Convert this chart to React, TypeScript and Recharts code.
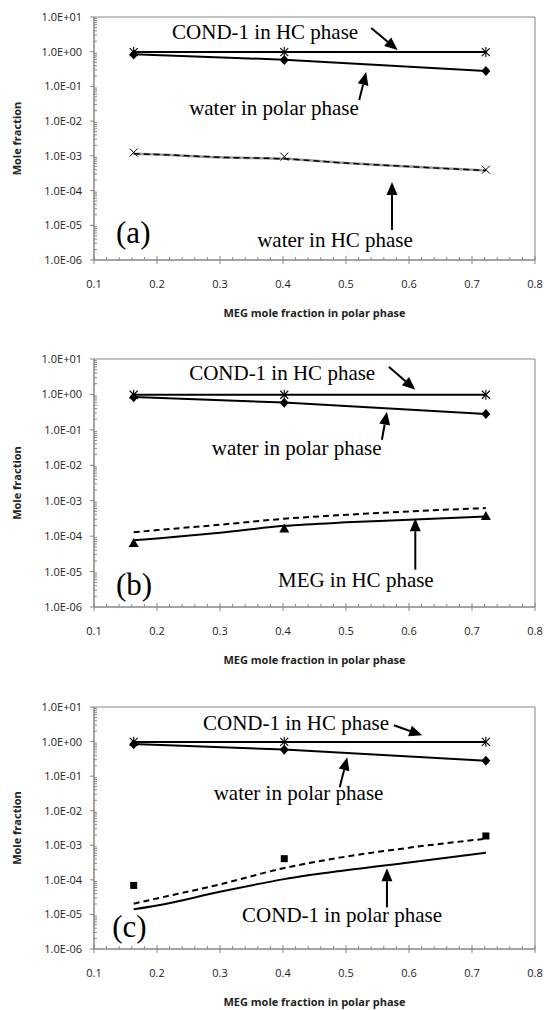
import React from 'react';
import {
  ComposedChart,
  Line,
  Scatter,
  XAxis,
  YAxis,
  ReferenceArea,
  ReferenceLine,
  ReferenceDot,
  Label,
} from 'recharts';

// MEG mole fraction in polar phase of the measured points
const EXP_X = [0.163, 0.402, 0.722];
// x positions
const MODEL_X = [0.163, 0.2, 0.3, 0.402, 0.5, 0.6, 0.722];

// shared by all three panels
const COND1_HC_EXP = [0.98, 0.98, 0.98];
const COND1_HC_MODEL = [0.98, 0.98, 0.98];
const WATER_POLAR_EXP = [0.83, 0.58, 0.28];
const WATER_POLAR_MODEL = [0.85, 0.59, 0.28];

// (a) water in HC phase
const WATER_HC_EXP = [1.25e-3, 9.5e-4, 4.0e-4];
const WATER_HC_SOLID = [1.15e-3, 1.1e-3, 9.1e-4, 8.2e-4, 6.2e-4, 4.9e-4, 3.8e-4];
const WATER_HC_DASHED = [1.15e-3, 1.1e-3, 9.1e-4, 8.2e-4, 6.2e-4, 4.9e-4, 3.8e-4];

// (b) MEG in HC phase
const MEG_HC_EXP = [6.4e-5, 1.65e-4, 3.7e-4];
const MEG_HC_SOLID = [7.6e-5, 8.6e-5, 1.25e-4, 1.95e-4, 2.45e-4, 2.9e-4, 3.6e-4];
const MEG_HC_DASHED = [1.28e-4, 1.48e-4, 2.1e-4, 3.1e-4, 4.0e-4, 5.0e-4, 6.2e-4];

// (c) COND-1 in polar phase
const COND1_POLAR_EXP = [6.9e-5, 4.1e-4, 1.86e-3];
const COND1_POLAR_SOLID = [1.4e-5, 1.8e-5, 4.5e-5, 1.05e-4, 1.9e-4, 3.2e-4, 6.1e-4];
const COND1_POLAR_DASHED = [2.05e-5, 2.9e-5, 7.4e-5, 2.2e-4, 4.7e-4, 8.5e-4, 1.55e-3];

const X_TITLE = 'MEG mole fraction in polar phase';
const Y_TITLE = 'Mole fraction';

// tick lists: majors every 0.1 / decade, minors in between
const X_TICKS: number[] = [];
for (let i = 0; i <= 35; i++) X_TICKS.push(Math.round((0.1 + i * 0.02) * 1000) / 1000);
const Y_TICKS: number[] = [];
for (let e = -6; e <= 1; e++) {
  Y_TICKS.push(Math.pow(10, e));
  if (e < 1) for (let m = 2; m <= 9; m++) Y_TICKS.push(m * Math.pow(10, e));
}

const AXIS = '#868686';
const TICK_FONT = '"Open Sans", sans-serif';
const NOTE_FONT = '"Liberation Serif", "Times New Roman", serif';

const pts = (xs: number[], ys: number[]) => xs.map((x, i) => ({ x, y: ys[i] }));

const fmtExp = (v: number) => {
  const e = Math.round(Math.log10(v));
  return `1.0E${e < 0 ? '-' : '+'}${String(Math.abs(e)).padStart(2, '0')}`;
};

const XTick = ({ x, y, payload }: any) => {
  const v = payload.value;
  const major = Math.abs(v * 10 - Math.round(v * 10)) < 1e-6;
  if (!major) return <line x1={x} x2={x} y1={y} y2={y - 3} stroke={AXIS} />;
  return (
    <g>
      <line x1={x} x2={x} y1={y - 4} y2={y + 4} stroke={AXIS} />
      <text x={x} y={y + 28} textAnchor="middle" fontSize={11} fontFamily={TICK_FONT} fill="#222">
        {v.toFixed(1)}
      </text>
    </g>
  );
};

const YTick = ({ x, y, payload }: any) => {
  const v = payload.value;
  const lg = Math.log10(v);
  const major = Math.abs(lg - Math.round(lg)) < 1e-9;
  if (!major) return <line x1={x} x2={x + 3} y1={y} y2={y} stroke={AXIS} />;
  return (
    <g>
      <line x1={x - 4} x2={x} y1={y} y2={y} stroke={AXIS} />
      <text x={x - 12} y={y + 4} textAnchor="end" fontSize={11} fontFamily={TICK_FONT} fill="#222">
        {fmtExp(v)}
      </text>
    </g>
  );
};

const XTitle = ({ viewBox }: any) => (
  <text
    x={viewBox.x + viewBox.width / 2}
    y={viewBox.y + 57}
    textAnchor="middle"
    fontSize={11}
    fontWeight="bold"
    fontFamily={TICK_FONT}
    fill="#222"
  >
    {X_TITLE}
  </text>
);

const YTitle = ({ viewBox }: any) => {
  const cy = viewBox.y + viewBox.height / 2;
  return (
    <text
      x={16}
      y={cy}
      transform={`rotate(-90 16 ${cy})`}
      textAnchor="middle"
      dominantBaseline="central"
      fontSize={11}
      fontWeight="bold"
      fontFamily={TICK_FONT}
      fill="#222"
    >
      {Y_TITLE}
    </text>
  );
};

// markers
const Star = ({ cx, cy }: any) => (
  <g stroke="#000" strokeWidth={1.1}>
    <line x1={cx - 4} y1={cy - 4} x2={cx + 4} y2={cy + 4} />
    <line x1={cx - 4} y1={cy + 4} x2={cx + 4} y2={cy - 4} />
    <line x1={cx} y1={cy - 5} x2={cx} y2={cy + 5} />
  </g>
);
const Cross = ({ cx, cy }: any) => (
  <g stroke="#000" strokeWidth={1}>
    <line x1={cx - 4} y1={cy - 4} x2={cx + 4} y2={cy + 4} />
    <line x1={cx - 4} y1={cy + 4} x2={cx + 4} y2={cy - 4} />
  </g>
);
const Diamond = ({ cx, cy }: any) => (
  <polygon points={`${cx},${cy - 5} ${cx + 4.5},${cy} ${cx},${cy + 5} ${cx - 4.5},${cy}`} fill="#000" />
);
const Triangle = ({ cx, cy }: any) => (
  <polygon points={`${cx},${cy - 5} ${cx + 5},${cy + 4} ${cx - 5},${cy + 4}`} fill="#000" />
);
const Square = ({ cx, cy }: any) => <rect x={cx - 3.5} y={cy - 3.5} width={7} height={7} fill="#000" />;

const Arrow = ({ x1, y1, x2, y2 }: any) => {
  const dx = x2 - x1;
  const dy = y2 - y1;
  const len = Math.sqrt(dx * dx + dy * dy) || 1;
  const ux = dx / len;
  const uy = dy / len;
  const hl = 13;
  const hw = 5.5;
  const bx = x2 - ux * hl;
  const by = y2 - uy * hl;
  return (
    <g>
      <line x1={x1} y1={y1} x2={bx} y2={by} stroke="#000" strokeWidth={2} />
      <polygon
        points={`${x2},${y2} ${bx - uy * hw},${by + ux * hw} ${bx + uy * hw},${by - ux * hw}`}
        fill="#000"
      />
    </g>
  );
};

type Note = { text: string; x: number; y: number; size?: number };
type Arr = { from: [number, number]; to: [number, number] };

const NOTES_A: Note[] = [
  { text: 'COND-1 in HC phase', x: 0.224, y: 2.3 },
  { text: 'water in polar phase', x: 0.251, y: 0.015 },
  { text: 'water in HC phase', x: 0.359, y: 2.37e-6 },
  { text: '(a)', x: 0.135, y: 3.1e-6, size: 31 },
];
const ARROWS_A: Arr[] = [
  { from: [0.54, 4.8], to: [0.582, 1.12] },
  { from: [0.521, 0.0406], to: [0.532, 0.26] },
  { from: [0.573, 7.3e-6], to: [0.573, 1.76e-4] },
];

const NOTES_B: Note[] = [
  { text: 'COND-1 in HC phase', x: 0.251, y: 2.6 },
  { text: 'water in polar phase', x: 0.287, y: 0.0199 },
  { text: 'MEG in HC phase', x: 0.392, y: 3.74e-6 },
  { text: '(b)', x: 0.135, y: 2.22e-6, size: 31 },
];
const ARROWS_B: Arr[] = [
  { from: [0.568, 6.07], to: [0.61, 1.36] },
  { from: [0.557, 0.0527], to: [0.565, 0.326] },
  { from: [0.61, 1.13e-5], to: [0.61, 3.2e-4] },
];

const NOTES_C: Note[] = [
  { text: 'COND-1 in HC phase', x: 0.273, y: 2.12 },
  { text: 'water in polar phase', x: 0.29, y: 0.02 },
  { text: 'COND-1 in polar phase', x: 0.335, y: 5.9e-6 },
  { text: '(c)', x: 0.129, y: 2.18e-6, size: 31 },
];
const ARROWS_C: Arr[] = [
  { from: [0.576, 2.96], to: [0.621, 1.52] },
  { from: [0.49, 0.0475], to: [0.502, 0.35] },
  { from: [0.565, 1.6e-5], to: [0.565, 2.16e-4] },
];

type LineSpec = { data: { x: number; y: number }[]; stroke: string; width: number; dash?: string; type: any };
type PointSpec = { data: { x: number; y: number }[]; shape: any };

const baseLines: LineSpec[] = [
  { data: pts(EXP_X, COND1_HC_MODEL), stroke: '#000', width: 2, type: 'linear' },
  { data: pts(EXP_X, WATER_POLAR_MODEL), stroke: '#000', width: 2, type: 'linear' },
];
const basePoints: PointSpec[] = [
  { data: pts(EXP_X, COND1_HC_EXP), shape: Star },
  { data: pts(EXP_X, WATER_POLAR_EXP), shape: Diamond },
];

function Panel({
  top,
  plotH,
  lines,
  points,
  notes,
  arrows,
}: {
  top: number;
  plotH: number;
  lines: LineSpec[];
  points: PointSpec[];
  notes: Note[];
  arrows: Arr[];
}) {
  return (
    <div style={{ position: 'absolute', left: 0, top }}>
      <ComposedChart width={547} height={17 + plotH + 75} margin={{ top: 17, right: 12, bottom: 0, left: 0 }}>
        <XAxis
          type="number"
          dataKey="x"
          domain={[0.1, 0.8]}
          ticks={X_TICKS}
          interval={0}
          tickSize={0}
          tickMargin={0}
          tickLine={false}
          tick={XTick}
          axisLine={{ stroke: AXIS }}
          height={75}
          allowDataOverflow
        >
          <Label content={XTitle} />
        </XAxis>
        <YAxis
          type="number"
          dataKey="y"
          scale="log"
          domain={[1e-6, 10]}
          ticks={Y_TICKS}
          interval={0}
          tickSize={0}
          tickMargin={0}
          tickLine={false}
          tick={YTick}
          axisLine={{ stroke: AXIS }}
          width={94}
          allowDataOverflow
        >
          <Label content={YTitle} />
        </YAxis>
        <ReferenceArea x1={0.1} x2={0.8} y1={1e-6} y2={10} fill="none" stroke={AXIS} ifOverflow="visible" />
        {lines.map((l, i) => (
          <Line
            key={`l${i}`}
            data={l.data}
            dataKey="y"
            type={l.type}
            stroke={l.stroke}
            strokeWidth={l.width}
            strokeDasharray={l.dash}
            dot={false}
            activeDot={false}
            isAnimationActive={false}
          />
        ))}
        {points.map((p, i) => (
          <Scatter key={`p${i}`} data={p.data} dataKey="y" shape={p.shape} isAnimationActive={false} />
        ))}
        {arrows.map((a, i) => (
          <ReferenceLine
            key={`a${i}`}
            segment={[
              { x: a.from[0], y: a.from[1] },
              { x: a.to[0], y: a.to[1] },
            ]}
            ifOverflow="visible"
            shape={Arrow}
          />
        ))}
        {notes.map((n, i) => (
          <ReferenceDot
            key={`n${i}`}
            x={n.x}
            y={n.y}
            r={0}
            ifOverflow="visible"
            shape={({ cx, cy }: any) => (
              <text x={cx} y={cy} fontSize={n.size || 21} fontFamily={NOTE_FONT} fill="#000">
                {n.text}
              </text>
            )}
          />
        ))}
      </ComposedChart>
    </div>
  );
}

export default function App() {
  return (
    <div
      style={{
        position: 'absolute',
        left: 0,
        top: 0,
        width: 547,
        height: 1010,
        overflow: 'hidden',
        background: '#fff',
      }}
    >
      <Panel
        top={0}
        plotH={243}
        lines={[
          ...baseLines,
          { data: pts(MODEL_X, WATER_HC_SOLID), stroke: '#9a9a9a', width: 2.5, type: 'monotone' },
          { data: pts(MODEL_X, WATER_HC_DASHED), stroke: '#000', width: 1.5, dash: '6 4', type: 'monotone' },
        ]}
        points={[...basePoints, { data: pts(EXP_X, WATER_HC_EXP), shape: Cross }]}
        notes={NOTES_A}
        arrows={ARROWS_A}
      />
      <Panel
        top={342}
        plotH={248}
        lines={[
          ...baseLines,
          { data: pts(MODEL_X, MEG_HC_SOLID), stroke: '#000', width: 2, type: 'monotone' },
          { data: pts(MODEL_X, MEG_HC_DASHED), stroke: '#000', width: 2, dash: '6 4', type: 'monotone' },
        ]}
        points={[...basePoints, { data: pts(EXP_X, MEG_HC_EXP), shape: Triangle }]}
        notes={NOTES_B}
        arrows={ARROWS_B}
      />
      <Panel
        top={690}
        plotH={242}
        lines={[
          ...baseLines,
          { data: pts(MODEL_X, COND1_POLAR_SOLID), stroke: '#000', width: 2, type: 'monotone' },
          { data: pts(MODEL_X, COND1_POLAR_DASHED), stroke: '#000', width: 2, dash: '6 4', type: 'monotone' },
        ]}
        points={[...basePoints, { data: pts(EXP_X, COND1_POLAR_EXP), shape: Square }]}
        notes={NOTES_C}
        arrows={ARROWS_C}
      />
    </div>
  );
}
